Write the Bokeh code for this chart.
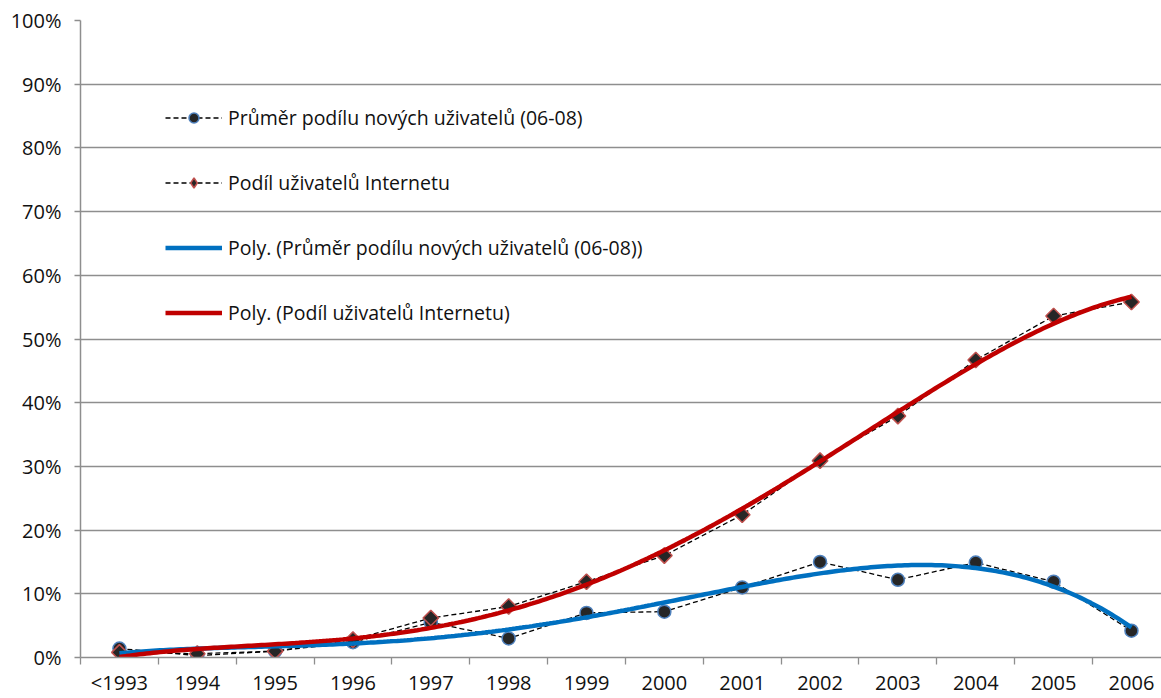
import numpy as np
from bokeh.plotting import figure
from bokeh.models import Range1d, FixedTicker, PrintfTickFormatter, Legend, LegendItem, ColumnDataSource
from bokeh.embed import file_html
from bokeh.resources import INLINE

# ---- data ----
categories = ["<1993", "1994", "1995", "1996", "1997", "1998", "1999",
              "2000", "2001", "2002", "2003", "2004", "2005", "2006"]
avg_new_users = [1.4, 0.3, 1.0, 2.4, 5.5, 3.0, 7.0, 7.2, 11.0, 15.0, 12.2, 14.9, 11.9, 4.2]
internet_users = [0.8, 0.6, 1.0, 2.8, 6.2, 8.0, 11.9, 16.0, 22.4, 30.9, 37.9, 46.7, 53.6, 55.8]
poly_order_avg = 4
poly_order_internet = 4
y_ticks = [0, 10, 20, 30, 40, 50, 60, 70, 80, 90, 100]

label_avg = "Průměr podílu nových uživatelů (06-08)"
label_int = "Podíl uživatelů Internetu"

FONT = "Open Sans"
GRAY = "#8e8e8e"

xpos = np.arange(len(categories))

# polynomial trendlines (least-squares fit to the series, like the spreadsheet's "Poly." trendline)
xs = np.linspace(xpos[0], xpos[-1], 300)
trend_avg = np.polyval(np.polyfit(xpos, avg_new_users, poly_order_avg), xs)
trend_int = np.polyval(np.polyfit(xpos, internet_users, poly_order_internet), xs)

src = ColumnDataSource(dict(x=xpos, avg=avg_new_users, inet=internet_users))
tsrc = ColumnDataSource(dict(x=xs, avg=trend_avg, inet=trend_int))

p = figure(width=1161, height=698,
           x_range=Range1d(-0.5, 13.386), y_range=Range1d(0, 100),
           output_backend="svg", toolbar_location=None,
           min_border_left=80, min_border_right=0, min_border_top=20, min_border_bottom=40)
p.outline_line_color = None
p.background_fill_color = "white"

# grid
p.xgrid.grid_line_color = None
p.ygrid.ticker = FixedTicker(ticks=y_ticks)
p.ygrid.grid_line_color = GRAY
p.ygrid.grid_line_width = 1.3

# y axis
p.yaxis.ticker = FixedTicker(ticks=y_ticks)
p.yaxis.formatter = PrintfTickFormatter(format="%d%%")
p.yaxis.axis_line_color = GRAY
p.yaxis.axis_line_width = 1.5
p.yaxis.major_tick_line_color = GRAY
p.yaxis.major_tick_line_width = 1.3
p.yaxis.major_tick_out = 6
p.yaxis.major_tick_in = 0
p.yaxis.minor_tick_line_color = None
p.yaxis.major_label_standoff = 13
p.yaxis.major_label_text_font = FONT
p.yaxis.major_label_text_font_size = "20px"
p.yaxis.major_label_text_color = "#111111"

# x axis: labels at category centres, tick marks between categories
p.xaxis.ticker = FixedTicker(ticks=list(xpos), minor_ticks=list(np.arange(len(categories)) - 0.5))
p.xaxis.major_label_overrides = {int(i): c for i, c in zip(xpos, categories)}
p.xaxis.axis_line_color = GRAY
p.xaxis.axis_line_width = 1.5
p.xaxis.major_tick_line_color = None
p.xaxis.major_tick_out = 0
p.xaxis.major_tick_in = 0
p.xaxis.minor_tick_line_color = GRAY
p.xaxis.minor_tick_line_width = 1.3
p.xaxis.minor_tick_out = 7
p.xaxis.minor_tick_in = 0
p.xaxis.major_label_standoff = 4
p.xaxis.major_label_text_font = FONT
p.xaxis.major_label_text_font_size = "20px"
p.xaxis.major_label_text_color = "#111111"

# series
DASH = "5 3"
l_avg = p.line("x", "avg", source=src, line_color="black", line_width=1.3, line_dash=DASH)
l_int = p.line("x", "inet", source=src, line_color="black", line_width=1.3, line_dash=DASH)
m_avg = p.scatter("x", "avg", source=src, marker="circle", size=13,
                  fill_color="#262626", line_color="#4f81bd", line_width=1.5)
# diamond glyph (used for the legend swatch; covered by the rotated squares in the plot)
m_int_leg = p.scatter("x", "inet", source=src, marker="diamond", size=14,
                      fill_color="#262626", line_color="#c0504d", line_width=1.5)
m_int = p.scatter("x", "inet", source=src, marker="square", size=11, angle=np.pi / 4,
                  fill_color="#262626", line_color="#c0504d", line_width=1.5)
t_avg = p.line("x", "avg", source=tsrc, line_color="#0070c0", line_width=4.5)
t_int = p.line("x", "inet", source=tsrc, line_color="#c00000", line_width=4.5)

legend = Legend(items=[
    LegendItem(label=label_avg, renderers=[l_avg, m_avg]),
    LegendItem(label=label_int, renderers=[l_int, m_int_leg]),
    LegendItem(label="Poly. (" + label_avg + ")", renderers=[t_avg]),
    LegendItem(label="Poly. (" + label_int + ")", renderers=[t_int]),
], location=(85, 331))
legend.padding = 0
legend.margin = 0
legend.spacing = 38
legend.glyph_width = 57
legend.glyph_height = 25
legend.label_height = 20
legend.label_standoff = 6
legend.border_line_color = None
legend.background_fill_alpha = 0
legend.label_text_font = FONT
legend.label_text_font_size = "19.5px"
legend.label_text_color = "#111111"
p.add_layout(legend)

open("out.html", "w").write(file_html(p, INLINE))
